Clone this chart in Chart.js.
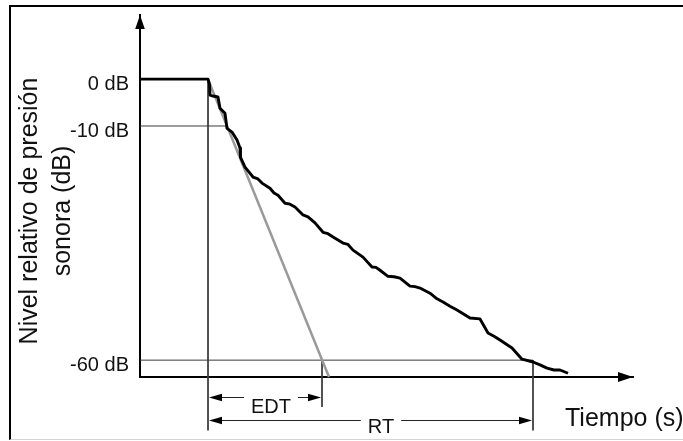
<!DOCTYPE html>
<html><head><meta charset="utf-8">
<script src="https://cdn.jsdelivr.net/npm/chart.js@4.4.1/dist/chart.umd.min.js"></script>
<style>
html,body{margin:0;padding:0;background:#fff;}
#wrap{position:relative;width:683px;height:441px;overflow:hidden;}
#frame{position:absolute;left:9px;top:5px;width:720px;height:435px;border-top:2px solid #000;border-left:2px solid #000;border-bottom:1px solid #d4d4d4;box-sizing:border-box;}
canvas{position:absolute;left:0;top:0;}
</style></head><body>
<div id="wrap"><div id="frame"></div><canvas id="c" width="683" height="441"></canvas></div>
<script>
// ---- data (time in s, level in dB) ----
const decayTime  = [0, 0.68, 0.695, 0.70, 0.73, 0.78, 0.80, 0.85, 0.87, 0.92, 0.97, 1.00, 1.005, 1.05, 1.13, 1.18, 1.22, 1.30, 1.34, 1.38, 1.45, 1.50, 1.55, 1.63, 1.68, 1.75, 1.83, 1.88, 1.93, 2.03, 2.08, 2.13, 2.23, 2.32, 2.36, 2.40, 2.48, 2.54, 2.60, 2.70, 2.75, 2.80, 2.90, 2.97, 3.03, 3.10, 3.17, 3.30, 3.40, 3.48, 3.54, 3.60, 3.72, 3.82, 3.93, 4.00, 4.07, 4.14, 4.20, 4.28];
const decayLevel = [0, 0, -1.1, -3.4, -3.6, -3.8, -6.2, -7.3, -10.5, -11.3, -13.0, -14.7, -16.7, -18.8, -20.9, -21.3, -22.2, -23.3, -24.3, -24.8, -26.5, -26.7, -27.3, -29.0, -29.4, -30.7, -32.7, -33.0, -33.7, -35.0, -35.3, -36.5, -38.0, -40.1, -40.2, -40.8, -42.1, -42.2, -42.5, -44.2, -44.3, -44.6, -45.7, -46.9, -47.6, -48.5, -49.3, -51.0, -51.2, -54.2, -54.9, -55.7, -57.4, -59.8, -60.4, -61.0, -61.7, -62.1, -62.1, -62.8];
const fitTime  = [0.68, 1.89];
const fitLevel = [0, -63.6];
const decayStart = 0.68;   // s
const edtTime = 1.82;      // s
const rtTime  = 3.93;      // s
const yTickValues = [0, -10, -60];
const yTickLabels = ['0 dB', '-10 dB', '-60 dB'];
const yAxisTitle = ['Nivel relativo de presión', 'sonora (dB)'];
const xAxisTitle = 'Tiempo (s)';
const edtLabel = 'EDT';
const rtLabel  = 'RT';

// ---- layout (not data) ----
const Y_MIN = -63.6, Y_MAX = 13.7, X_MIN = 0, X_MAX = 4.93;
const FONT = "'Liberation Sans', Arial, sans-serif";
const dims = [
  {from: decayStart, to: edtTime, level: -67.9, text: edtLabel, at: 1.31, drop: 15},
  {from: decayStart, to: rtTime,  level: -72.8, text: rtLabel,  at: 2.41, drop: 12}
];

const pts = (xs, ys) => xs.map((v, i) => ({x: v, y: ys[i]}));
const thin = (data) => ({data, borderColor: '#3a3a3a', borderWidth: 1, pointRadius: 0, clip: false, order: 3, tension: 0});

function tri(ctx, x1, y1, x2, y2, x3, y3) {
  ctx.beginPath(); ctx.moveTo(x1, y1); ctx.lineTo(x2, y2); ctx.lineTo(x3, y3); ctx.closePath(); ctx.fill();
}

const overlay = {
  id: 'overlay',
  afterDraw(chart) {
    const {ctx, chartArea: a, scales: {x, y}} = chart;
    ctx.save();
    ctx.fillStyle = '#000';
    ctx.strokeStyle = '#000';
    // axis arrowheads
    const ax = x.getPixelForValue(X_MIN);
    tri(ctx, ax, a.top, ax - 4.8, a.top + 14, ax + 4.8, a.top + 14);
    const ay = y.getPixelForValue(Y_MIN);
    tri(ctx, a.right, ay, a.right - 15, ay - 5, a.right - 15, ay + 5);
    // dimension lines EDT / RT
    ctx.font = '20px ' + FONT;
    ctx.textAlign = 'center';
    ctx.textBaseline = 'alphabetic';
    ctx.lineWidth = 1;
    ctx.strokeStyle = '#222';
    dims.forEach(d => {
      const p0 = x.getPixelForValue(d.from) + 1, p1 = x.getPixelForValue(d.to) - 1;
      const py = Math.round(y.getPixelForValue(d.level)) + 0.5;
      const cx = x.getPixelForValue(d.at);
      const w = ctx.measureText(d.text).width;
      const gap = 7;
      ctx.beginPath();
      ctx.moveTo(p0 + 10, py); ctx.lineTo(cx - w / 2 - gap, py);
      ctx.moveTo(cx + w / 2 + gap, py); ctx.lineTo(p1 - 10, py);
      ctx.stroke();
      tri(ctx, p0, py, p0 + 13, py - 3.8, p0 + 13, py + 3.8);
      tri(ctx, p1, py, p1 - 13, py - 3.8, p1 - 13, py + 3.8);
      ctx.fillStyle = '#111';
      ctx.fillText(d.text, cx, py + d.drop);
      ctx.fillStyle = '#000';
    });
    // axis titles
    ctx.fillStyle = '#111';
    ctx.font = '25px ' + FONT;
    ctx.save();
    ctx.translate(0, 211);
    ctx.rotate(-Math.PI / 2);
    ctx.textAlign = 'center';
    ctx.textBaseline = 'middle';
    ctx.fillText(yAxisTitle[0], 0, 30);
    ctx.fillText(yAxisTitle[1], 0, 63);
    ctx.restore();
    ctx.textAlign = 'left';
    ctx.textBaseline = 'alphabetic';
    ctx.fillText(xAxisTitle, 565, 426);
    ctx.restore();
  }
};

new Chart(document.getElementById('c'), {
  type: 'line',
  data: {
    datasets: [
      {data: pts(decayTime, decayLevel), borderColor: '#000', borderWidth: 2.9, pointRadius: 0, tension: 0, order: 1, clip: false, borderJoinStyle: 'round'},
      {data: pts(fitTime, fitLevel), borderColor: '#9a9a9a', borderWidth: 2.5, pointRadius: 0, tension: 0, order: 2, clip: false},
      thin([{x: X_MIN, y: yTickValues[1]}, {x: 0.88, y: yTickValues[1]}]),
      thin([{x: X_MIN, y: yTickValues[2]}, {x: rtTime, y: yTickValues[2]}]),
      thin([{x: decayStart, y: 0}, {x: decayStart, y: -75}]),
      thin([{x: edtTime, y: yTickValues[2]}, {x: edtTime, y: -70}]),
      thin([{x: rtTime, y: yTickValues[2]}, {x: rtTime, y: -75}])
    ]
  },
  options: {
    responsive: false,
    animation: false,
    devicePixelRatio: 1,
    layout: {padding: {left: 0, top: 15, right: 50, bottom: 0}},
    plugins: {legend: {display: false}, tooltip: {enabled: false}},
    scales: {
      x: {
        type: 'linear', min: X_MIN, max: X_MAX,
        grid: {display: false, drawTicks: false},
        border: {display: true, color: '#000', width: 2},
        ticks: {display: false},
        afterFit: s => { s.height = 64; s.paddingLeft = 0; s.paddingRight = 0; }
      },
      y: {
        type: 'linear', min: Y_MIN, max: Y_MAX,
        grid: {display: false, drawTicks: false},
        border: {display: true, color: '#000', width: 2},
        afterBuildTicks: s => { s.ticks = yTickValues.map(v => ({value: v})); },
        ticks: {
          autoSkip: false, padding: 11, labelOffset: 5, color: '#111',
          font: {family: FONT, size: 20},
          callback: (v) => yTickLabels[yTickValues.indexOf(v)]
        },
        afterFit: s => { s.width = 140; s.paddingTop = 0; s.paddingBottom = 0; }
      }
    }
  },
  plugins: [overlay]
});
</script>
</body></html>
